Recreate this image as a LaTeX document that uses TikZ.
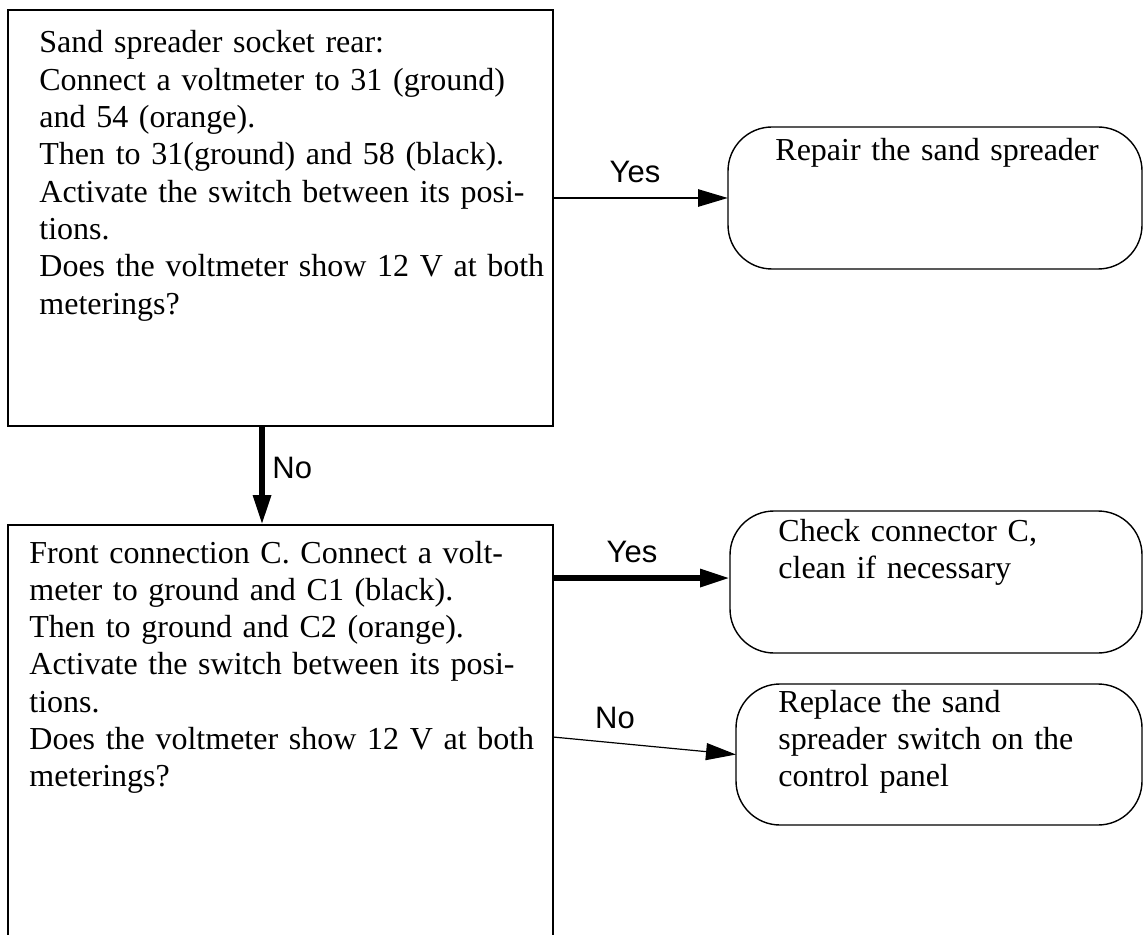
\documentclass[tikz,border=0pt]{standalone}
\usepackage{fontspec}
\setmainfont{Liberation Serif}
\setsansfont{Liberation Sans}
\usetikzlibrary{arrows.meta,calc}
\begin{document}
\begin{tikzpicture}[x=0.5pt,y=-0.5pt,
  qbox/.style={draw, line width=1.4pt, rectangle, inner sep=0pt, outer sep=0pt, anchor=north west},
  rbox/.style={draw, line width=0.7pt, rectangle, rounded corners=22pt, inner sep=0pt, outer sep=0pt, anchor=north west},
  txt/.style={font=\fontsize{16}{18.65}\selectfont, align=left, text width=270pt, anchor=base west, inner sep=0pt},
  lbl/.style={font=\sffamily\fontsize{15.5}{18}\selectfont, inner sep=0pt, anchor=base},
  tip/.style={-{Triangle[length=15pt,width=8.5pt]}},
]
\useasboundingbox (0,0) rectangle (1144,935);
\clip (0,0) rectangle (1144,935);

% boxes
\node[qbox, minimum width=272.5pt, minimum height=208pt] (b1) at (8,10) {};
\node[qbox, minimum width=272.5pt, minimum height=215pt] (b2) at (8,525) {};
\node[rbox, minimum width=207pt, minimum height=71pt] (r1) at (728,127) {};
\node[rbox, minimum width=206pt, minimum height=71pt] (r2) at (730,511) {};
\node[rbox, minimum width=203pt, minimum height=70.5pt] (r3) at (736,684) {};

% texts
\node[txt] (t1) at (39,53) {Sand spreader socket rear:\\
Connect a voltmeter to 31 (ground)\\
and 54 (orange).\\
Then to 31(ground) and 58 (black).\\
Activate the switch between its posi-\\
tions.\\
Does the voltmeter show 12 V at both\\
meterings?};
\node[txt] (t2) at (29,563) {Front connection C. Connect a volt-\\
meter to ground and C1 (black).\\
Then to ground and C2 (orange).\\
Activate the switch between its posi-\\
tions.\\
Does the voltmeter show 12 V at both\\
meterings?};
\node[txt, text width=180pt] (t3) at (775,161) {Repair the sand spreader};
\node[txt, text width=170pt] (t4) at (778,541) {Check connector C,\\
clean if necessary};
\node[txt, text width=170pt] (t5) at (778,712) {Replace the sand\\
spreader switch on the\\
control panel};

% connectors
\coordinate (y2e) at ([yshift=2pt]r2.west);
\coordinate (n2s) at ([yshift=-106pt]b2.north east);
\draw[line width=1.4pt, tip] (b1.east |- r1.west) -- (r1.west);
\draw[line width=3pt, tip] ([xshift=127pt]b1.south west) -- ([xshift=127pt]b2.north west);
\draw[line width=3pt, tip] (b2.east |- y2e) -- (y2e);
\draw[line width=0.6pt, tip] (n2s) -- (r3.west);

% labels
\node[lbl] (l1) at (635,183) {Yes};
\node[lbl, anchor=base west] (l2) at (272,478) {No};
\node[lbl] (l3) at (632,562) {Yes};
\node[lbl] (l4) at (615,728) {No};
\end{tikzpicture}
\end{document}
